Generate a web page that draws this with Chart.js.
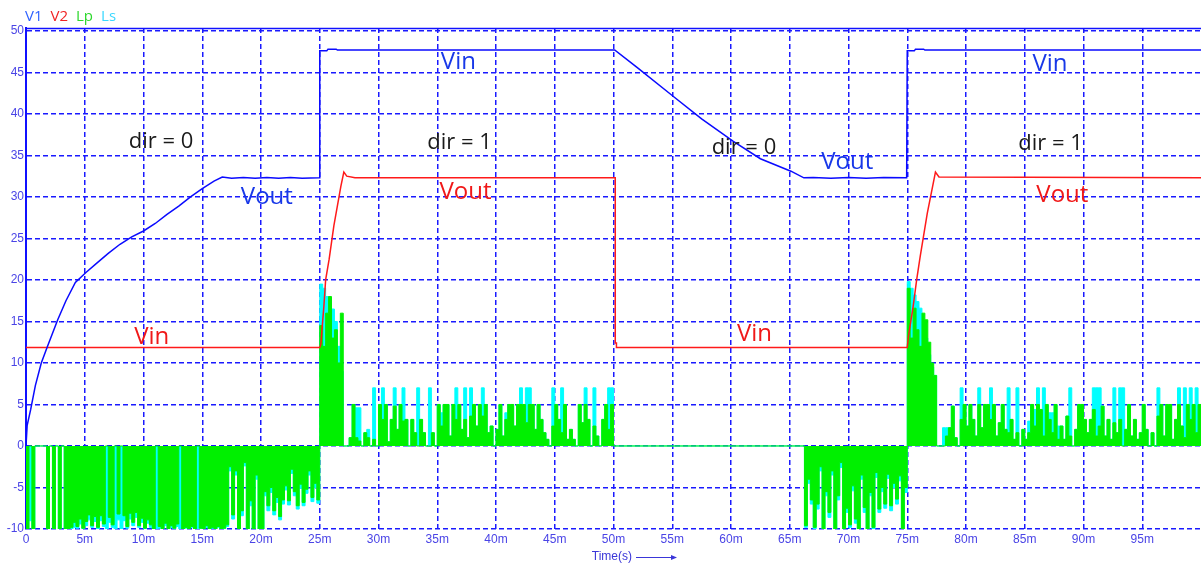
<!DOCTYPE html>
<html>
<head>
<meta charset="utf-8">
<script src="https://cdn.jsdelivr.net/npm/chart.js@4.4.1/dist/chart.umd.min.js"></script>
<style>
  html, body { margin: 0; padding: 0; background: #ffffff; }
  #wrap { width: 1202px; height: 565px; }
</style>
</head>
<body>
<div id="wrap"><canvas id="chart" width="1202" height="565"></canvas></div>
<script>
// time axis in ms, values in V / A
const xTicks = [0, 5, 10, 15, 20, 25, 30, 35, 40, 45, 50, 55, 60, 65, 70, 75, 80, 85, 90, 95];
const yTicks = [-10, -5, 0, 5, 10, 15, 20, 25, 30, 35, 40, 45, 50];

// V1 (blue)
const v1Time = [0, 0.1, 0.4, 0.8, 1.3, 1.8, 2.7, 3.4, 4.2, 5.1, 6, 7, 8, 9, 10, 11, 12, 13, 14, 15, 16, 16.7,
  17.5, 18.5, 19.5, 20.5, 21.5, 22.5, 23.5, 24.95,
  25, 25.6, 25.7, 26.4, 26.5, 30, 35, 40, 45, 50.1,
  52, 55.1, 57.5, 60.2, 62.5, 65.1, 66.2,
  67, 68.5, 70, 71.5, 73, 74.95,
  75, 75.6, 75.7, 76.4, 76.5, 80, 85, 90, 95, 100];
const v1Volt = [0, 2.5, 4.4, 7.3, 10, 11.9, 15.2, 17.5, 19.7, 20.9, 22, 23.2, 24.3, 25.2, 25.9, 26.8, 27.9, 28.9, 30, 31, 31.9, 32.4,
  32.25, 32.35, 32.25, 32.35, 32.25, 32.35, 32.25, 32.3,
  47.6, 47.6, 47.8, 47.8, 47.7, 47.7, 47.7, 47.7, 47.7, 47.7,
  45.6, 42.1, 39.4, 36.7, 34.6, 33.1, 32.3,
  32.35, 32.25, 32.35, 32.25, 32.35, 32.3,
  47.6, 47.6, 47.8, 47.8, 47.7, 47.7, 47.7, 47.7, 47.7, 47.7];

// V2 (red)
const v2Time = [0, 25, 25.1, 25.2, 25.35, 25.5, 25.8, 26.2, 26.8, 27.05, 27.3, 28, 50.15, 50.15, 50.25, 50.25,
  75, 75.1, 75.5, 75.8, 76.1, 76.7, 77.4, 77.7, 100];
const v2Volt = [11.85, 11.85, 12.3, 14.2, 16.8, 20, 22.5, 26.5, 31.3, 33, 32.5, 32.3, 32.3, 12.4, 12.4, 11.85,
  11.85, 13.2, 16.8, 20, 22.8, 28, 33, 32.4, 32.3];

// Lp / Ls currents, sampled every 0.25 ms inside each switching burst
const sampleStep = 0.25;
const burstStart = [0, 25, 66.25, 75];

const lpBurst1 = [-10, 0, -10, 0, 0, 0, 0, -10, 0, -10,
  0, -10, 0, -10, -10, -9.8, -9.2, -9.7, -8.8, -9.9,
  -9.1, -8.3, -9.6, -8.5, -9.8, -8.4, -9.4, 0, -8.6, -9.5,
  0, -8.2, 0, -8.4, -9.7, -8.1, -9.2, -8.0, -9.6, -8.7,
  -9.9, -8.9, -9.5, -10, 0, -9.7, -10, -9.3, -10, -9.6,
  -9.9, -9.4, 0, -10, -9.8, -10, -9.7, -10, 0, -9.9,
  -10, -9.6, -10, -9.8, -10, -9.7, -10, -9.9, -9.5, -2.5,
  -8.3, -3, -10, -7.8, -2, -10, -6.6, -10, -3.5, -10,
  -10, -5.5, -7.2, -5, -7.8, -6.2, -8.5, -6.5, -4.8, -6.6,
  -2.8, -5.5, -7.2, -4.6, -6.8, -5.2, -3, -6.2, -4.5, -6.5];
const lpBurst2 = [14.5, 12, 16, 18, 13, 14, 10, 16, 0, 0,
  1, 5, 1, 0.6, 0, 1.6, 1, 0, 0.8, 0,
  5, 3.2, 5, 0.5, 3.2, 4.8, 2, 5, 3, 3.2,
  0, 3.2, 1.6, 0, 3.2, 1.6, 0, 0, 1.6, 0,
  5, 2.4, 5, 5, 1.2, 5, 3.2, 5, 2, 3.2,
  1, 3.6, 5, 2.4, 5, 3.6, 5, 1.6, 2.4, 0,
  2, 5, 1.2, 3.2, 5, 5, 2.4, 5, 5, 5,
  2.8, 5, 5, 2, 5, 3.2, 1.6, 0.8, 0, 2.4,
  5, 3.2, 1.6, 5, 0.8, 2, 0.8, 0, 5, 2.8,
  5, 3.2, 0, 2.4, 1.2, 0, 3.2, 5, 2, 5];
const lpBurst3 = [-9.6, -4, -6.5, -9.8, -7, -2.5, -10, -5.5, -8, -3,
  -10, -6, -2, -10, -7.5, -9.5, -4.8, -8.8, -10, -3.5,
  -7.4, -10, -5.6, -9.8, -3.2, -7.6, -5, -7, -3.4, -7.2,
  -4.5, -6.4, -3.6, -10, -5];
const lpBurst4 = [19, 13, 16.6, 14, 12, 16, 15.2, 12.5, 10, 8.5,
  0, 0, 0, 1.2, 2.2, 4.8, 1, 0, 3.2, 5,
  2.4, 5, 3.2, 1.2, 5, 2.2, 5, 5, 3.2, 5,
  1.2, 2.8, 5, 2, 1.6, 3.2, 0.8, 1.6, 0, 2,
  0.8, 1.6, 5, 2.4, 5, 4.4, 1.2, 5, 3.2, 1.6,
  5, 0.8, 2.4, 0.8, 3.6, 1.2, 0, 2, 5, 5,
  3.2, 1.6, 3.2, 4.4, 1.2, 2.4, 4.8, 1.2, 3.2, 0.8,
  2.8, 1.6, 3.2, 0, 2, 5, 1.2, 3.2, 0.8, 1.6,
  5, 2, 0, 1.6, 0, 3.6, 5, 1.2, 5, 5,
  0.8, 3.2, 5, 2.4, 1, 5, 3.2, 5, 1.6, 5];

const lsBurst1 = [-10, -9, -10, 0, 0, 0, 0, -10, 0, -10,
  0, -10, 0, -10, -10, -10, -9.8, -9.9, -9.4, -10,
  -9.6, -8.9, -9.8, -9.1, -10, -9.0, -9.7, -10, -9.2, -9.8,
  -10, -8.9, -10, -9.0, -9.9, -8.8, -9.6, -8.6, -9.8, -9.2,
  -10, -9.3, -9.8, -10, -10, -9.9, -10, -9.6, -10, -9.8,
  -10, -9.7, -10, -10, -9.9, -10, -9.8, -10, -10, -10,
  -10, -9.8, -10, -9.9, -10, -9.8, -10, -10, -9.7, -3,
  -8.8, -3.5, -10, -8.4, -2.4, -10, -7.2, -10, -4, -10,
  -10, -6, -7.8, -5.6, -8.3, -6.8, -8.9, -7.0, -5.3, -7.1,
  -3.3, -6.0, -7.6, -5.1, -7.2, -5.7, -3.5, -6.7, -5.0, -6.9];
const lsBurst2 = [19.5, 19, 18, 17.5, 16.5, 15, 12, 9, 0, 0,
  1, 5, 4.6, 4.6, 0, 1.6, 2, 0, 7, 0,
  5, 7, 5, 0.5, 3.2, 7, 2, 5, 7, 3.2,
  0, 3.2, 1.6, 7, 3.2, 1.6, 0, 7, 1.6, 0,
  5, 4, 5, 5, 1.2, 5, 7, 5, 2, 7,
  1, 7, 5, 2.4, 5, 7, 5, 1.6, 2.4, 0,
  2, 5, 1.2, 4, 5, 5, 2.4, 5, 7, 5,
  7, 7, 5, 2, 5, 3.2, 1.6, 0.8, 0, 7,
  5, 3.2, 7, 5, 0.8, 2, 0.8, 0, 5, 2.8,
  7, 3.2, 0, 7, 1.2, 0, 3.2, 5, 7, 7];
const lsBurst3 = [-9.8, -4.5, -7, -10, -7.6, -3, -10, -6, -8.6, -3.5,
  -10, -6.5, -2.6, -10, -8, -9.8, -5.4, -9.3, -10, -4,
  -8, -10, -6, -10, -3.8, -8, -5.5, -7.5, -3.9, -7.8,
  -5, -7, -4.2, -10, -5.6];
const lsBurst4 = [19.8, 19, 18.2, 17.4, 16.6, 15, 13, 11, 9.5, 8.5,
  0, 0, 2.2, 2.2, 2.2, 4.8, 1, 0, 7, 5,
  2.4, 5, 3.2, 1.2, 7, 2.2, 5, 5, 7, 5,
  1.2, 2.8, 5, 2, 7, 3.2, 0.8, 7, 0, 2,
  0.8, 3, 5, 4.4, 7, 4.4, 7, 5, 4, 4,
  5, 2.4, 2.4, 0.8, 3.6, 7, 0, 2, 5, 5,
  3.2, 1.6, 3.2, 7, 7, 7, 4.8, 1.2, 3.2, 0.8,
  7, 1.6, 7, 7, 2, 5, 1.2, 3.2, 0.8, 1.6,
  5, 2, 0, 1.6, 0, 7, 5, 1.2, 5, 5,
  0.8, 3.2, 7, 2.4, 7, 5, 7, 5, 7, 5];

// text placed on the plot (data coordinates)
const notes = [
  { text: 'dir = 0', t: 11.5, v: 36.6, color: '#1a1a1a', size: 22 },
  { text: 'dir = 1', t: 36.9, v: 36.5, color: '#1a1a1a', size: 22 },
  { text: 'dir = 0', t: 61.1, v: 35.9, color: '#1a1a1a', size: 22 },
  { text: 'dir = 1', t: 87.2, v: 36.4, color: '#1a1a1a', size: 22 },
  { text: 'Vin', t: 36.8, v: 46.2, color: '#1838e8', size: 24 },
  { text: 'Vin', t: 87.15, v: 46.0, color: '#1838e8', size: 24 },
  { text: 'Vout', t: 20.5, v: 30.0, color: '#1838e8', size: 24 },
  { text: 'Vout', t: 69.9, v: 34.2, color: '#1838e8', size: 24 },
  { text: 'Vout', t: 37.4, v: 30.6, color: '#f01818', size: 24 },
  { text: 'Vout', t: 88.2, v: 30.2, color: '#f01818', size: 24 },
  { text: 'Vin', t: 10.7, v: 13.1, color: '#f01818', size: 24 },
  { text: 'Vin', t: 62.0, v: 13.5, color: '#f01818', size: 24 }
];

function toPoints(times, values) {
  return times.map((t, i) => ({ x: t, y: values[i] }));
}

// sample i holds from start + i*step to the next sample (stepped: 'before')
function buildBursts(bursts) {
  const pts = [];
  bursts.forEach((vals, k) => {
    const start = burstStart[k];
    vals.forEach((v, i) => pts.push({ x: start + i * sampleStep, y: v }));
    pts.push({ x: start + vals.length * sampleStep, y: 0 });
  });
  return pts;
}

const gridBlue = '#1a1aff';
const tickColor = '#4a44e6';

const frame = {
  id: 'frame',
  afterDraw(chart) {
    const { ctx, chartArea } = chart;
    ctx.save();
    // top border
    ctx.strokeStyle = '#1010ff';
    ctx.lineWidth = 1.5;
    ctx.beginPath();
    ctx.moveTo(chartArea.left, chartArea.top + 0.5);
    ctx.lineTo(chartArea.right, chartArea.top + 0.5);
    ctx.stroke();

    // legend: trace names in trace colours
    ctx.font = '15px "Open Sans"';
    ctx.textBaseline = 'middle';
    ctx.textAlign = 'left';
    let lx = 25;
    chart.data.datasets.forEach(ds => {
      ctx.fillStyle = ds.legendColor;
      ctx.fillText(ds.label, lx, 17);
      lx += ctx.measureText(ds.label).width + 8;
    });

    // axis title with arrow
    const cx = chart.width / 2;
    ctx.font = '12px "Liberation Sans"';
    ctx.fillStyle = '#3a36d8';
    ctx.textAlign = 'right';
    ctx.fillText('Time(s)', cx + 31, 557);
    ctx.strokeStyle = '#3a36d8';
    ctx.lineWidth = 1;
    ctx.beginPath();
    ctx.moveTo(cx + 35, 557.5);
    ctx.lineTo(cx + 72, 557.5);
    ctx.stroke();
    ctx.fillStyle = '#3a36d8';
    ctx.beginPath();
    ctx.moveTo(cx + 76, 557.5);
    ctx.lineTo(cx + 70, 555);
    ctx.lineTo(cx + 70, 560);
    ctx.closePath();
    ctx.fill();
    ctx.restore();
  }
};

const noteLabels = {
  id: 'noteLabels',
  afterDatasetsDraw(chart) {
    const { ctx } = chart;
    const xs = chart.scales.x, ys = chart.scales.y;
    ctx.save();
    ctx.textAlign = 'center';
    ctx.textBaseline = 'middle';
    notes.forEach(n => {
      ctx.font = n.size + 'px "Open Sans"';
      ctx.fillStyle = n.color;
      ctx.fillText(n.text, xs.getPixelForValue(n.t), ys.getPixelForValue(n.v));
    });
    ctx.restore();
  }
};

new Chart(document.getElementById('chart'), {
  type: 'line',
  data: {
    datasets: [
      {
        label: 'V1',
        data: toPoints(v1Time, v1Volt),
        borderColor: '#0a0aff',
        legendColor: '#2f62ff',
        borderWidth: 1.5,
        pointRadius: 0,
        fill: false
      },
      {
        label: 'V2',
        data: toPoints(v2Time, v2Volt),
        borderColor: '#ff1a1a',
        legendColor: '#f02424',
        borderWidth: 1.5,
        pointRadius: 0,
        fill: false
      },
      {
        label: 'Lp',
        data: buildBursts([lpBurst1, lpBurst2, lpBurst3, lpBurst4]),
        borderColor: '#00f000',
        backgroundColor: '#00f000',
        legendColor: '#2ed82e',
        borderWidth: 1,
        pointRadius: 0,
        stepped: 'before',
        fill: 'origin'
      },
      {
        label: 'Ls',
        data: buildBursts([lsBurst1, lsBurst2, lsBurst3, lsBurst4]),
        borderColor: '#00ffff',
        backgroundColor: '#00ffff',
        legendColor: '#3ad8ff',
        borderWidth: 1,
        pointRadius: 0,
        stepped: 'before',
        fill: 'origin'
      }
    ]
  },
  options: {
    responsive: false,
    animation: false,
    devicePixelRatio: 1,
    layout: { padding: { top: 28, right: 1, left: 0, bottom: 0 } },
    plugins: {
      legend: { display: false },
      tooltip: { enabled: false }
    },
    scales: {
      x: {
        type: 'linear',
        min: 0,
        max: 100,
        afterBuildTicks: s => { s.ticks = xTicks.map(v => ({ value: v })); },
        afterFit: s => { s.height = 36; },
        grid: { color: gridBlue, lineWidth: 1.5, drawTicks: false },
        border: { display: false, dash: [5, 3] },
        ticks: {
          color: tickColor,
          padding: 3,
          maxRotation: 0,
          autoSkip: false,
          font: { family: '"Liberation Sans"', size: 12 },
          callback: v => (v === 0 ? '0' : v + 'm')
        }
      },
      y: {
        min: -10,
        max: 50.35,
        afterBuildTicks: s => { s.ticks = yTicks.map(v => ({ value: v })); },
        afterFit: s => { s.width = 26; },
        grid: { color: gridBlue, lineWidth: 1.5, drawTicks: false },
        border: { display: true, color: '#1010ff', width: 2, dash: [5, 3] },
        ticks: {
          color: tickColor,
          padding: 2,
          autoSkip: false,
          font: { family: '"Liberation Sans"', size: 12 },
          callback: v => String(v)
        }
      }
    }
  },
  plugins: [frame, noteLabels]
});
</script>
</body>
</html>
